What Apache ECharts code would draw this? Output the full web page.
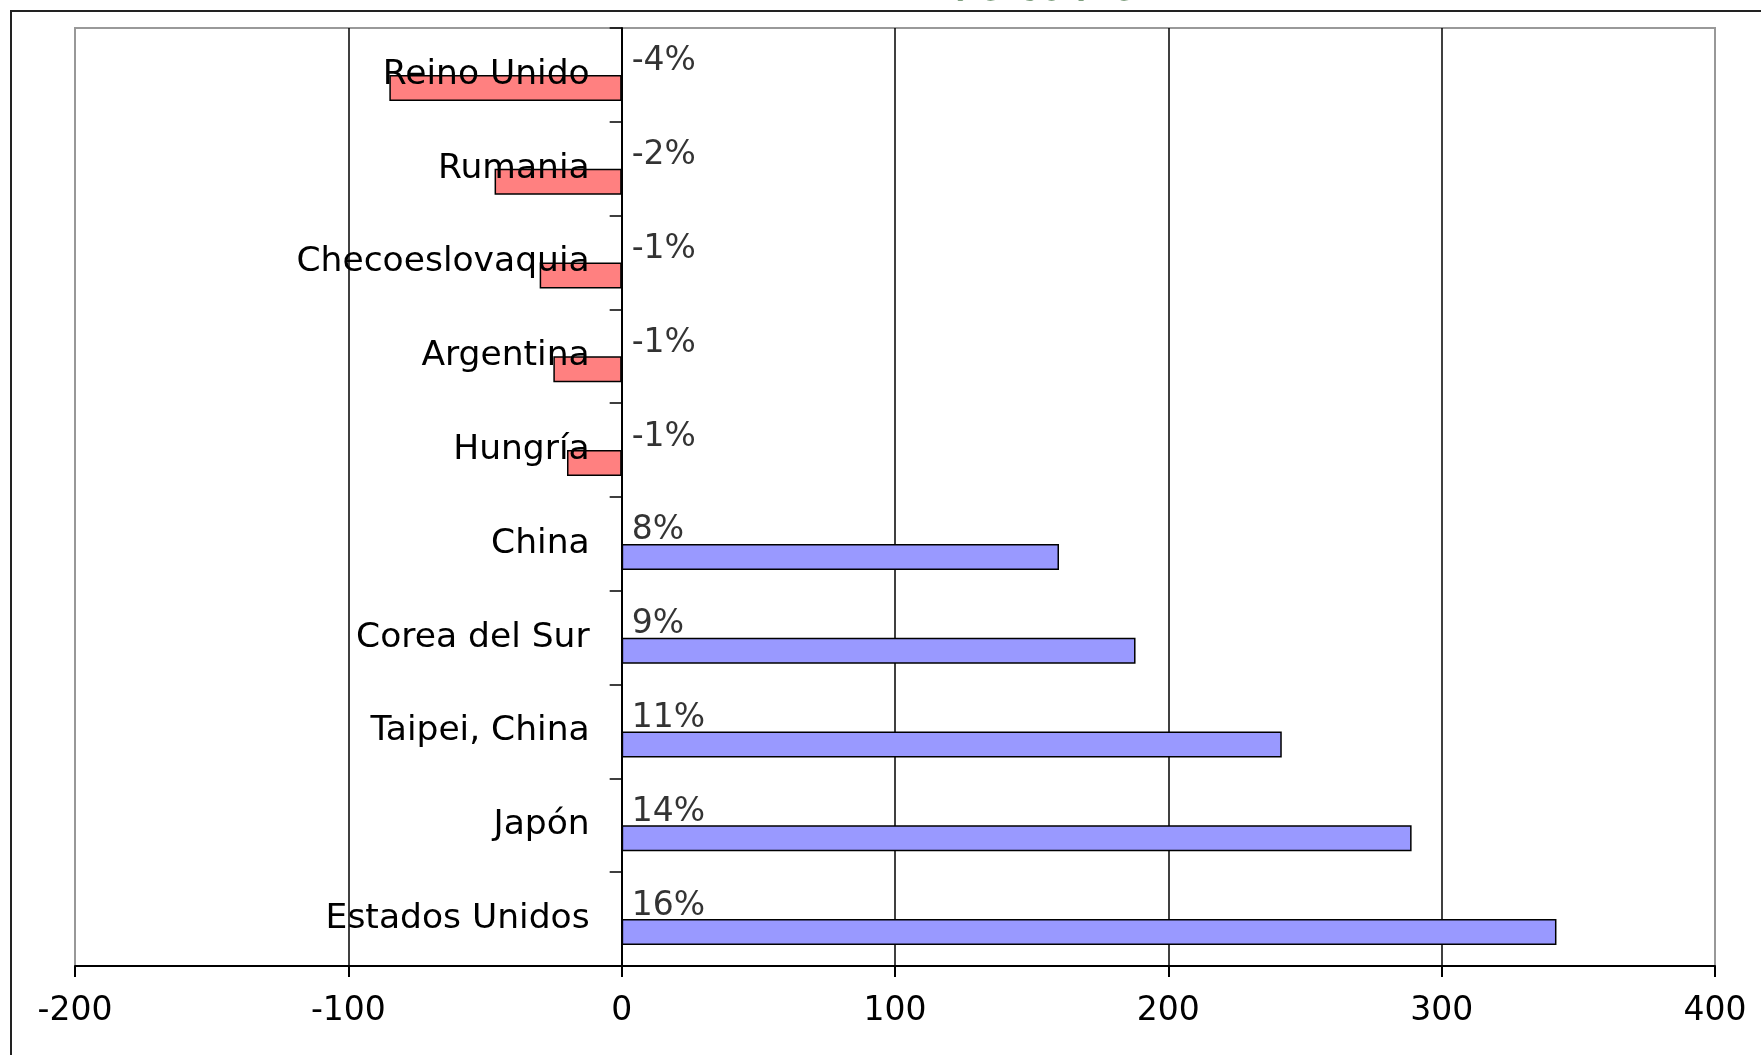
<!DOCTYPE html>
<html>
<head>
<meta charset="utf-8">
<script src="https://cdn.jsdelivr.net/npm/echarts@6/dist/echarts.min.js"></script>
<style>
html,body{margin:0;padding:0;background:#fff;}
#chart{width:1761px;height:1055px;}
</style>
</head>
<body>
<div id="chart"></div>
<script>
var categories = ['Estados Unidos', 'Japón', 'Taipei, China', 'Corea del Sur', 'China', 'Hungría', 'Argentina', 'Checoeslovaquia', 'Rumania', 'Reino Unido'];
var values = [342, 289, 241.5, 188, 160, -20, -25, -30, -46.5, -85];
var shares = ['16%', '14%', '11%', '9%', '8%', '-1%', '-1%', '-1%', '-2%', '-4%'];
var xTicks = [-200, -100, 0, 100, 200, 300, 400];
var titleText = 'de cobre';

var FONT = 'DejaVu Sans';
var GRID_LEFT = 75, GRID_RIGHT = 46;
var chart = echarts.init(document.getElementById('chart'), null, {renderer: 'canvas'});

var gridColors = xTicks.map(function (v, i) {
  return (i === 0 || i === xTicks.length - 1) ? '#999999' : '#000000';
});

var xMin = xTicks[0], xMax = xTicks[xTicks.length - 1];

chart.setOption({
  backgroundColor: '#ffffff',
  animation: false,
  graphic: [
    {
      type: 'rect', z: 100,
      shape: {x: 11, y: 11, width: 1800, height: 1100},
      style: {fill: 'none', stroke: '#222', lineWidth: 2}
    },
    {
      type: 'text', z: 100,
      x: 1043, y: -10,
      style: {
        text: titleText, fill: '#004000',
        font: 'bold 38px "DejaVu Sans"',
        textAlign: 'center', textVerticalAlign: 'middle'
      }
    }
  ],
  grid: {
    left: GRID_LEFT, right: GRID_RIGHT, top: 28, bottom: 89,
    containLabel: false, outerBoundsMode: 'none',
    show: true, borderColor: '#999999', borderWidth: 2, backgroundColor: '#ffffff'
  },
  xAxis: {
    type: 'value',
    min: xMin, max: xMax, interval: 100,
    axisLine: {show: true, lineStyle: {color: '#000', width: 2}},
    axisTick: {show: true, length: 11, lineStyle: {color: '#000', width: 2}},
    axisLabel: {fontFamily: FONT, fontSize: 33, color: '#000', margin: 29},
    splitLine: {show: true, lineStyle: {color: gridColors, width: 1.5}}
  },
  yAxis: {
    type: 'category',
    data: categories,
    z: 5,
    axisLine: {show: true, onZero: true, lineStyle: {color: '#000', width: 2}},
    axisTick: {show: true, length: 12, lineStyle: {color: '#000', width: 1.5}},
    axisLabel: {fontFamily: FONT, fontSize: 34.5, color: '#000', margin: 32},
    splitLine: {show: false}
  },
  series: [
    {
      type: 'bar',
      name: 'spacer',
      data: categories.map(function () { return '-'; }),
      barWidth: 26,
      barGap: '0%',
      silent: true
    },
    {
      type: 'bar',
      name: 'valor',
      data: values,
      barWidth: 26,
      barGap: '0%',
      itemStyle: {
        color: function (p) { return p.value < 0 ? '#FF8080' : '#9999FF'; },
        borderColor: '#000',
        borderWidth: 1.5
      }
    },
    {
      type: 'scatter',
      symbolSize: 0,
      silent: true,
      z: 6,
      data: categories.map(function (c) { return [0, c]; }),
      label: {
        show: true,
        position: 'right',
        distance: 10,
        offset: [0, -13],
        fontFamily: FONT,
        fontSize: 33,
        color: '#000000',
        textBorderWidth: 0,
        formatter: function (p) { return shares[p.dataIndex]; }
      }
    }
  ]
});

// the category labels stay at the grid's left edge; move them next to the zero line
var zeroPx = chart.convertToPixel({xAxisIndex: 0}, 0);
var leftPx = chart.convertToPixel({xAxisIndex: 0}, xMin);
chart.setOption({yAxis: {axisLabel: {margin: 32 - (zeroPx - leftPx)}}});
</script>
</body>
</html>
